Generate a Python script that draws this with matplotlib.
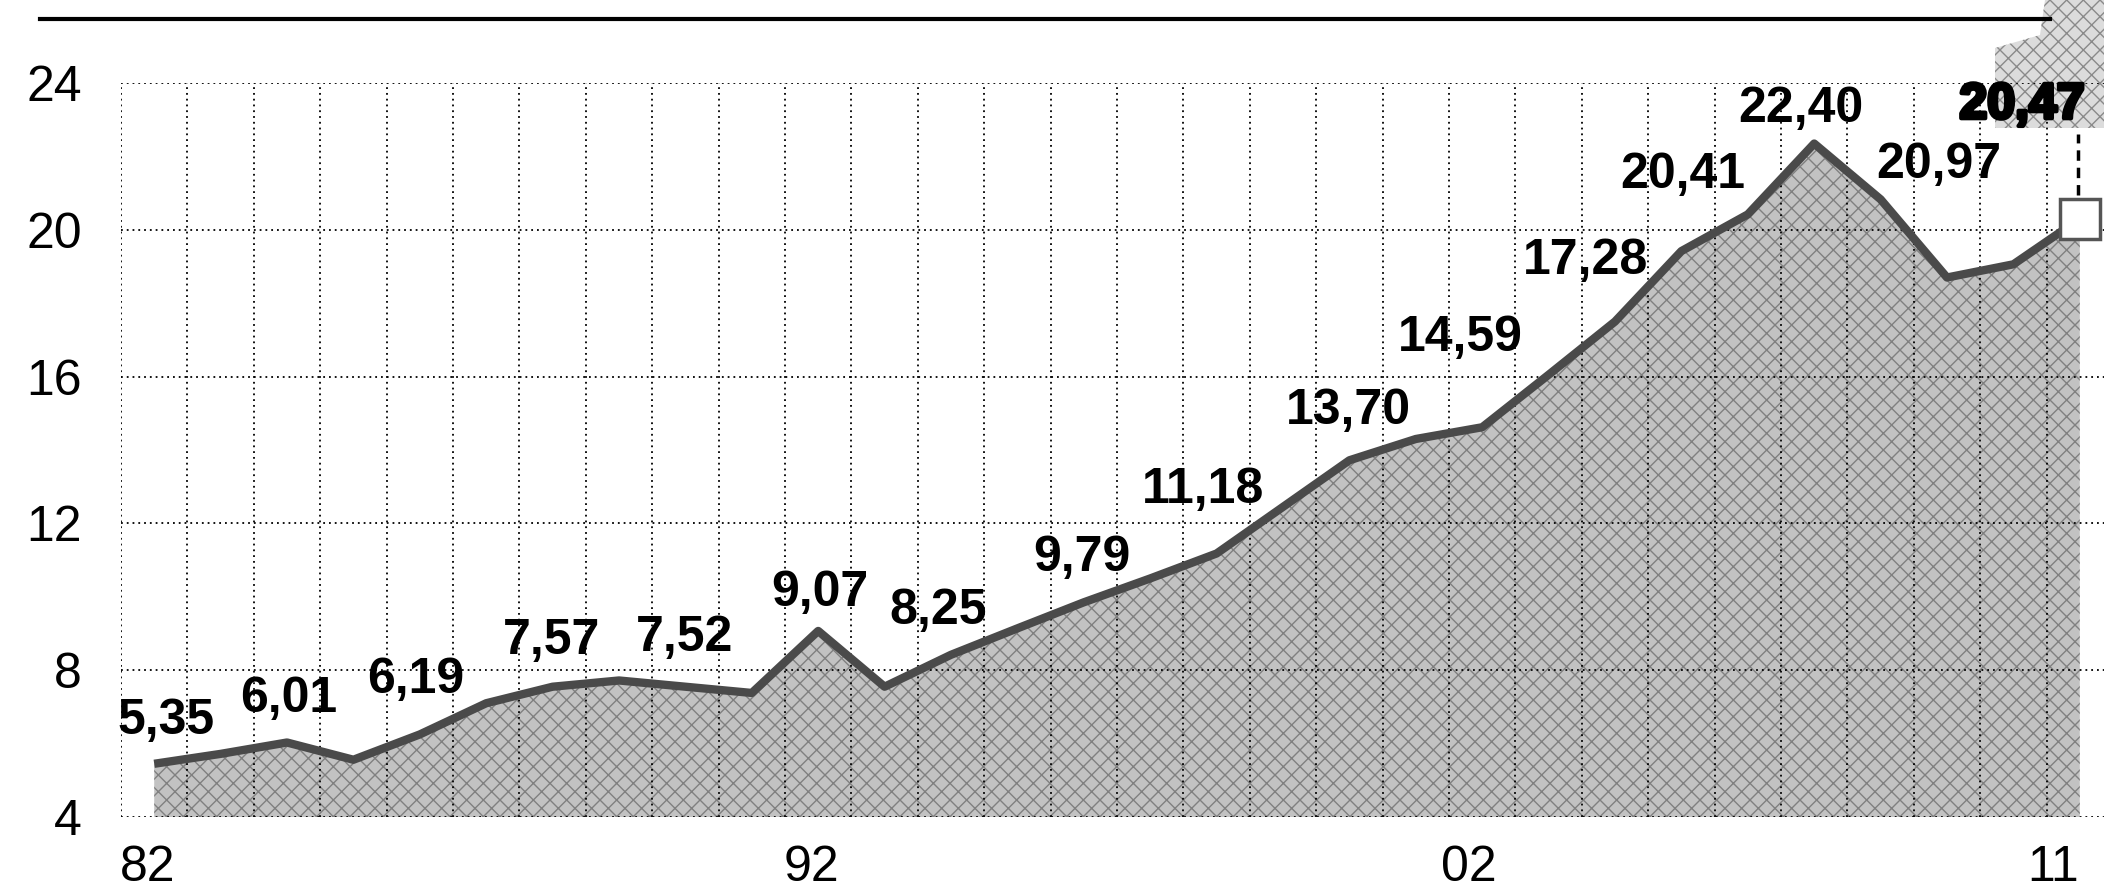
import numpy as np
import matplotlib.pyplot as plt
from matplotlib.lines import Line2D
from matplotlib.patches import Polygon
import matplotlib.patheffects as pe

plt.rcParams['font.family'] = ['Liberation Sans', 'DejaVu Sans']

# annual values (one point per year)
years = list(range(1982, 2012))
values = [5.45, 5.72, 6.03, 5.56, 6.25, 7.1, 7.55, 7.72, 7.55, 7.38,
          9.07, 7.55, 8.42, 9.14, 9.85, 10.5, 11.18, 12.45, 13.72, 14.3,
          14.62, 16.05, 17.5, 19.42, 20.42, 22.35, 20.83, 18.7, 19.06, 20.3]

label_texts = ["5,35", "6,01", "6,19", "7,57", "7,52", "9,07", "8,25", "9,79",
               "11,18", "13,70", "14,59", "17,28", "20,41", "22,40", "20,97", "20,47"]
# where each label sits (x in years, y = baseline in chart units)
label_xy = [(1982.68, 6.27), (1984.52, 6.85), (1986.44, 7.39), (1988.49, 8.43),
            (1990.48, 8.52), (1992.53, 9.75), (1994.30, 9.25), (1996.47, 10.69),
            (1998.30, 12.55), (2000.48, 14.72), (2002.17, 16.71), (2004.06, 18.79),
            (2005.52, 21.14), (2007.30, 22.95), (2009.37, 21.41), (2010.63, 23.04)]

y_ticks = [4, 8, 12, 16, 20, 24]
x_tick_pos = [1982.4, 1992.4, 2002.3, 2011.1]
x_tick_labels = ["82", "92", "02", "11"]

W, H = 2104, 889
fig = plt.figure(figsize=(W / 100, H / 100), dpi=100)
ax = fig.add_axes([121 / W, 1 - 817 / H, (W - 121) / W, (817 - 83) / H])
ax.set_facecolor('none')

x = np.array(years) + 0.5
y = np.array(values)

ax.fill_between(x, 4, y, facecolor='#c2c2c2', edgecolor='#808080',
                hatch='xx', linewidth=0, zorder=1)
ax.plot(x, y, color='#4a4a4a', linewidth=6, solid_joinstyle='round',
        solid_capstyle='butt', zorder=3)
ax.plot(x[-1], y[-1], marker='s', markersize=29, markerfacecolor='white',
        markeredgecolor='#555555', markeredgewidth=2.5, zorder=4)
ax.plot([x[-1] - 0.03, x[-1] - 0.03], [y[-1] + 0.65, 22.6], color='black',
        linestyle=(0, (3, 2)), linewidth=2.5, zorder=4)

ax.set_xlim(1982, 1982 + (W - 121) / 66.4)
ax.set_ylim(4, 24)

# dotted grid: one vertical line per year, horizontal every 4
grid_kw = dict(color='black', linestyle=(0, (1, 2.2)), linewidth=1.3, zorder=2)
for yr in range(1982, 2012):
    ax.axvline(yr, **grid_kw)
for yt in y_ticks:
    ax.axhline(yt, **grid_kw)

ax.set_yticks(y_ticks)
ax.set_yticklabels([str(v) for v in y_ticks], fontsize=36)
ax.set_xticks(x_tick_pos)
ax.set_xticklabels(x_tick_labels, fontsize=36)
ax.tick_params(axis='both', length=0)
ax.tick_params(axis='y', pad=28)
ax.tick_params(axis='x', pad=20)
for s in ax.spines.values():
    s.set_visible(False)

for i, (txt, (lx, ly)) in enumerate(zip(label_texts, label_xy)):
    last = i == len(label_texts) - 1
    t = ax.text(lx, ly, txt, fontsize=36, fontweight='bold', ha='center',
                va='baseline', color='black', zorder=6, clip_on=False)
    if last:
        t.set_path_effects([pe.withStroke(linewidth=3, foreground='black')])

# halftone patch in the top right corner, behind the last label
patch_px = [(2045, 0), (W, 0), (W, 128), (1995, 128), (1995, 48), (2040, 35)]
fig.add_artist(Polygon([(px / W, 1 - py / H) for px, py in patch_px],
                       closed=True, facecolor='#dcdcdc', edgecolor='#8a8a8a',
                       linewidth=0, hatch='xx', transform=fig.transFigure,
                       zorder=-1))

# rule at the top
fig.add_artist(Line2D([40 / W, 2050 / W], [1 - 19 / H, 1 - 19 / H],
                      color='black', linewidth=3, transform=fig.transFigure))

fig.savefig('out.png', dpi=100, facecolor='white')
